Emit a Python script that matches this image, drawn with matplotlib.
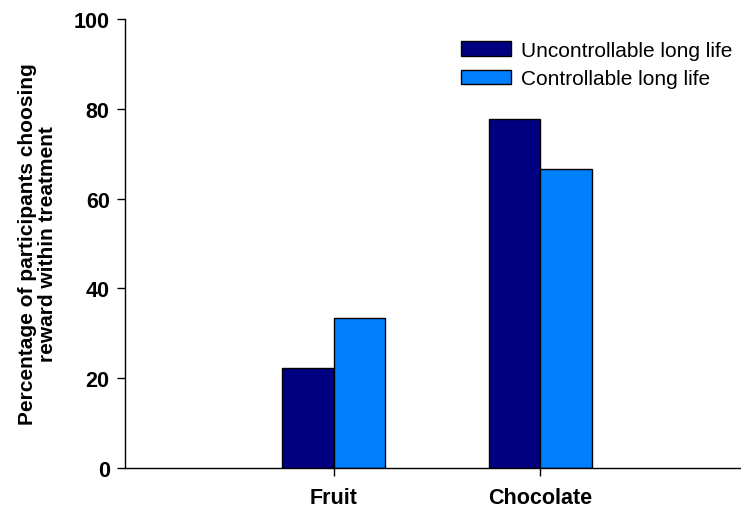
import matplotlib
matplotlib.use("Agg")
import matplotlib.pyplot as plt
import numpy as np

plt.rcParams['font.family'] = ['Liberation Sans', 'DejaVu Sans']

categories = ["Fruit", "Chocolate"]
series_names = ["Uncontrollable long life", "Controllable long life"]
uncontrollable = [22.2, 77.8]
controllable = [33.3, 66.7]
yticks = [0, 20, 40, 60, 80, 100]

colors = ["#000080", "#0080FF"]

fig = plt.figure(figsize=(7.41, 5.10), dpi=100)
ax = fig.add_axes([125/741, 41/510, 616/741, 449/510])

x = np.arange(1, len(categories) + 1)
w = 0.25
ax.bar(x - w/2, uncontrollable, width=w, color=colors[0], edgecolor="black", linewidth=1, label=series_names[0])
ax.bar(x + w/2, controllable, width=w, color=colors[1], edgecolor="black", linewidth=1, label=series_names[1])

ax.set_xlim(-0.01, 2.97)
ax.set_ylim(0, 100)
ax.set_yticks(yticks)
ax.set_yticklabels([str(t) for t in yticks], fontsize=15.5, fontweight="bold")
ax.set_xticks(x)
ax.set_xticklabels(categories, fontsize=15.5, fontweight="bold")
ax.tick_params(axis="y", direction="out", length=6, width=1, pad=5)
ax.tick_params(axis="x", direction="out", length=6, width=1, pad=8)
ax.spines["top"].set_visible(False)
ax.spines["right"].set_visible(False)
ax.spines["left"].set_linewidth(1)
ax.spines["bottom"].set_linewidth(1)

ax.set_ylabel("Percentage of participants choosing\nreward within treatment", fontsize=15, fontweight="bold", labelpad=12, linespacing=1.05)

leg = ax.legend(loc="upper right", bbox_to_anchor=(1.0, 0.97), borderaxespad=0, frameon=False, fontsize=15,
                handlelength=2.4, handleheight=0.7, handletextpad=0.5, labelspacing=0.45)

fig.savefig("out.png", dpi=100)
